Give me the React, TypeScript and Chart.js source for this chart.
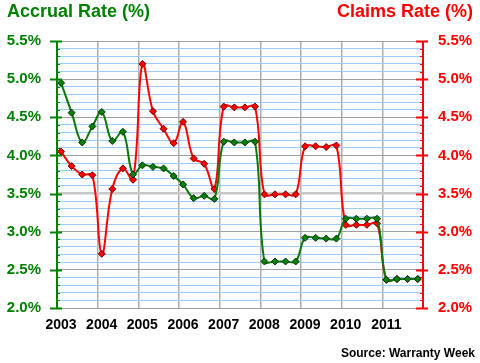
import React, { useEffect, useRef } from "react";
import { Chart, registerables } from "chart.js";

Chart.register(...registerables);

const years = [2003, 2004, 2005, 2006, 2007, 2008, 2009, 2010, 2011];
const quarterOffsets = [0.1, 0.36, 0.62, 0.87];
const accrualRate = [
  4.95, 4.56, 4.17, 4.38, 4.57, 4.19, 4.31, 3.75,
  3.87, 3.85, 3.83, 3.73, 3.62, 3.44, 3.47, 3.43,
  4.18, 4.17, 4.17, 4.18, 2.61, 2.61, 2.61, 2.61,
  2.92, 2.92, 2.91, 2.91, 3.17, 3.17, 3.17, 3.17,
  2.37, 2.38, 2.38, 2.38,
];
const claimsRate = [
  4.05, 3.86, 3.75, 3.74, 2.71, 3.56, 3.83, 3.68,
  5.2, 4.58, 4.35, 4.16, 4.44, 3.96, 3.89, 3.56,
  4.64, 4.63, 4.63, 4.64, 3.49, 3.49, 3.49, 3.49,
  4.12, 4.12, 4.11, 4.13, 3.09, 3.09, 3.09, 3.11,
  2.37, 2.38, 2.38, 2.38,
];
const yMin = 2.0;
const yMax = 5.5;

const FONT = '"Liberation Sans", Arial, sans-serif';
const GREEN = "#008000";
const RED = "#FF0000";

function toPoints(vals: number[]) {
  const pts: { x: number; y: number }[] = [];
  years.forEach((yr, i) => {
    quarterOffsets.forEach((q, j) => {
      const v = vals[i * 4 + j];
      if (v !== undefined) pts.push({ x: yr + q, y: v });
    });
  });
  return pts;
}

const axisPlugin = {
  id: "axisPlugin",
  afterDatasetsDraw(chart: any) {
    const { ctx, chartArea } = chart;
    const yL = chart.scales.y;
    const { left, right, top, bottom } = chartArea;
    ctx.save();
    ctx.strokeStyle = "#A0A0A0";
    ctx.lineWidth = 1;
    ctx.beginPath();
    ctx.moveTo(left, bottom + 0.5);
    ctx.lineTo(right, bottom + 0.5);
    ctx.stroke();
    const drawAxis = (x: number, color: string) => {
      ctx.strokeStyle = color;
      ctx.lineWidth = 2;
      ctx.beginPath();
      ctx.moveTo(x, top);
      ctx.lineTo(x, bottom + 1);
      ctx.stroke();
      for (let k = Math.round(yMin * 10); k <= Math.round(yMax * 10); k++) {
        const py = Math.round(yL.getPixelForValue(k / 10)) + 0.5;
        ctx.lineWidth = 2;
        ctx.beginPath();
        if (k % 5 === 0) {
          ctx.moveTo(x - 7, py);
          ctx.lineTo(x + 5, py);
        } else {
          ctx.lineWidth = 1;
          ctx.moveTo(x, py);
          ctx.lineTo(x + (x < 200 ? 3 : -3), py);
        }
        ctx.stroke();
      }
    };
    drawAxis(left, GREEN);
    drawAxis(right, RED);
    ctx.restore();
  },
};

export default function App() {
  const ref = useRef<HTMLCanvasElement | null>(null);
  useEffect(() => {
    if (!ref.current) return;
    const fmt = (v: number) => {
      const k = Math.round(v * 10);
      return k % 5 === 0 ? (k / 10).toFixed(1) + "%" : "";
    };
    const chart = new Chart(ref.current, {
      type: "line",
      data: {
        datasets: [
          {
            label: "Accrual Rate (%)",
            data: toPoints(accrualRate),
            yAxisID: "y",
            borderColor: "#0A780A",
            backgroundColor: "#0A800A",
            pointBorderColor: "#003000",
            borderWidth: 2,
            tension: 0.4,
            pointStyle: "rectRot",
            pointRadius: 3.5,
            pointBorderWidth: 1,
          },
          {
            label: "Claims Rate (%)",
            data: toPoints(claimsRate),
            yAxisID: "y1",
            borderColor: RED,
            backgroundColor: RED,
            pointBorderColor: "#700000",
            borderWidth: 2,
            tension: 0.4,
            pointStyle: "rectRot",
            pointRadius: 3.5,
            pointBorderWidth: 1,
          },
        ],
      },
      options: {
        animation: false,
        responsive: false,
        maintainAspectRatio: false,
        layout: { padding: { top: 41, left: 0, right: 0, bottom: 0 } },
        plugins: { legend: { display: false }, tooltip: { enabled: false } },
        scales: {
          x: {
            type: "linear",
            min: 2003,
            max: 2012,
            afterFit: (s: any) => {
              s.height = 55;
            },
            border: { display: false },
            grid: {
              color: (c: any) =>
                c.tick && (c.tick.value === 2003 || c.tick.value === 2012)
                  ? "rgba(0,0,0,0)"
                  : "#ADADAD",
              lineWidth: 1.5,
              drawTicks: false,
            },
            ticks: {
              stepSize: 1,
              autoSkip: false,
              maxRotation: 0,
              padding: 9,
              labelOffset: 4,
              color: "#000000",
              font: { family: FONT, size: 14, weight: "bold" },
              callback: (v: any) => (Number(v) < 2012 ? String(v) : ""),
            },
          },
          y: {
            position: "left",
            min: yMin,
            max: yMax,
            afterFit: (s: any) => {
              s.width = 57;
            },
            border: { display: false },
            grid: {
              drawTicks: false,
              color: (c: any) => {
                const k = Math.round((c.tick?.value ?? 0) * 10);
                if (k === 35) return "#C8C8C8";
                if (k % 5 === 0) return "#A0A0A0";
                return "#9CCBF8";
              },
              lineWidth: (c: any) => {
                const k = Math.round((c.tick?.value ?? 0) * 10);
                return k === 35 ? 2.5 : 1;
              },
            },
            ticks: {
              stepSize: 0.1,
              autoSkip: false,
              padding: 16,
              color: GREEN,
              font: { family: FONT, size: 15, weight: "bold" },
              callback: (v: any) => fmt(Number(v)),
            },
          },
          y1: {
            position: "right",
            min: yMin,
            max: yMax,
            afterFit: (s: any) => {
              s.width = 57;
            },
            border: { display: false },
            grid: { display: false, drawTicks: false },
            ticks: {
              stepSize: 0.1,
              autoSkip: false,
              padding: 15,
              color: RED,
              font: { family: FONT, size: 15, weight: "bold" },
              callback: (v: any) => fmt(Number(v)),
            },
          },
        },
      },
      plugins: [axisPlugin],
    } as any);
    return () => chart.destroy();
  }, []);

  const textBase: React.CSSProperties = {
    position: "absolute",
    fontFamily: FONT,
    fontWeight: "bold",
    whiteSpace: "nowrap",
    lineHeight: 1,
  };

  return (
    <div style={{ position: "fixed", left: 0, top: 0, width: 480, height: 363, background: "#fff" }}>
      <canvas ref={ref} width={480} height={363} style={{ position: "absolute", left: 0, top: 0, width: 480, height: 363 }} />
      <div style={{ ...textBase, left: 7, top: 2, fontSize: 18, color: GREEN }}>Accrual Rate (%)</div>
      <div style={{ ...textBase, right: 7, top: 2, fontSize: 18, color: RED }}>Claims Rate (%)</div>
      <div style={{ ...textBase, right: 5, top: 347, fontSize: 12, color: "#000" }}>Source: Warranty Week</div>
    </div>
  );
}
